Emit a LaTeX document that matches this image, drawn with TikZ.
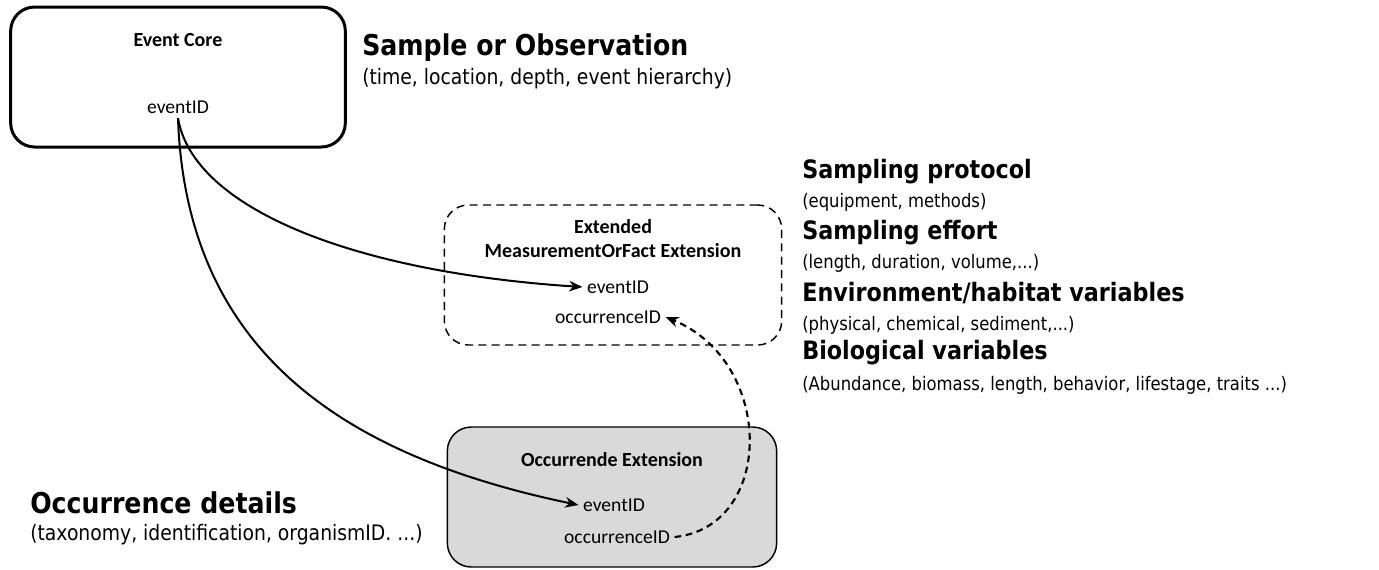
\documentclass[tikz,border=0pt]{standalone}
\usepackage{fontspec}
\setmainfont{Carlito}
\newfontfamily\headfont[FakeStretch=0.88]{DejaVu Sans}
\usetikzlibrary{arrows.meta}
\begin{document}
\begin{tikzpicture}[x=0.75pt,y=-0.75pt,
  table/.style={rounded corners=18pt, minimum width=#1, minimum height=105pt, inner sep=0pt},
  boxtitle/.style={font=\fontsize{15}{17}\selectfont\bfseries},
  field/.style={font=\fontsize{14.7}{17}\selectfont},
  heading/.style={anchor=west, inner sep=0pt, font=\headfont\fontsize{19}{22}\selectfont\bfseries},
  bigheading/.style={anchor=west, inner sep=0pt, font=\headfont\fontsize{21.5}{24}\selectfont\bfseries},
  detail/.style={anchor=west, inner sep=0pt, font=\headfont\fontsize{14}{16}\selectfont},
  bigdetail/.style={anchor=west, inner sep=0pt, font=\headfont\fontsize{16}{18}\selectfont},
  link/.style={line width=1.5pt, -{Stealth[length=10pt,width=8pt]}},
  dlink/.style={line width=1.6pt, dash pattern=on 5pt off 3.5pt, -{Stealth[length=10pt,width=8pt]}}
]
\useasboundingbox (0,0) rectangle (1379,569);

% core table
\node[table=251pt, draw, line width=2.25pt] (core) at (178,77) {};
\node[boxtitle] (coretitle) at (178,40) {Event Core};
\node[field] (coreid) at (178,107) {eventID};

% measurement-or-fact extension
\node[table=253pt, draw, line width=1.1pt, dash pattern=on 6pt off 4pt] (mof) at (613,275) {};
\node[boxtitle, align=center] (moftitle) at (613,239) {Extended\\[1pt]MeasurementOrFact Extension};
\node[field] (mofid) at (618,287) {eventID};
\node[field] (mofocc) at (608,317) {occurrenceID};

% occurrence extension
\node[table=247pt, draw, fill=gray!30, line width=1.1pt] (occ) at (612,497) {};
\node[boxtitle] (occtitle) at (612,460) {Occurrende Extension};
\node[field] (occid) at (614,505) {eventID};
\node[field] (occocc) at (617,537) {occurrenceID};

% connectors
\draw[link] (coreid.south) .. controls +(15,90) and +(-230,-15) .. (mofid.west);
\draw[link] (coreid.south) .. controls +(8,230) and +(-240,-50) .. (occid.west);
\draw[dlink] (occocc.east) .. controls +(100,-10) and +(110,45) .. (mofocc.east);

% descriptions
\node[bigheading] (sample) at (362,48) {Sample or Observation};
\node[bigdetail] (sampled) at (362,79) {(time, location, depth, event hierarchy)};

\node[heading] (proto) at (802,172) {Sampling protocol};
\node[detail] (protod) at (802,202) {(equipment, methods)};
\node[heading] (effort) at (802,233) {Sampling effort};
\node[detail] (effortd) at (802,263) {(length, duration, volume,...)};
\node[heading] (env) at (802,293) {Environment/habitat variables};
\node[detail] (envd) at (802,325) {(physical, chemical, sediment,...)};
\node[heading] (bio) at (802,353) {Biological variables};
\node[detail] (biod) at (802,385) {(Abundance, biomass, length, behavior, lifestage, traits ...)};

\node[bigheading] (occdet) at (30,503) {Occurrence details};
\node[bigdetail] (occdetd) at (30,535) {(taxonomy, identification, organismID. ...)};
\end{tikzpicture}
\end{document}
